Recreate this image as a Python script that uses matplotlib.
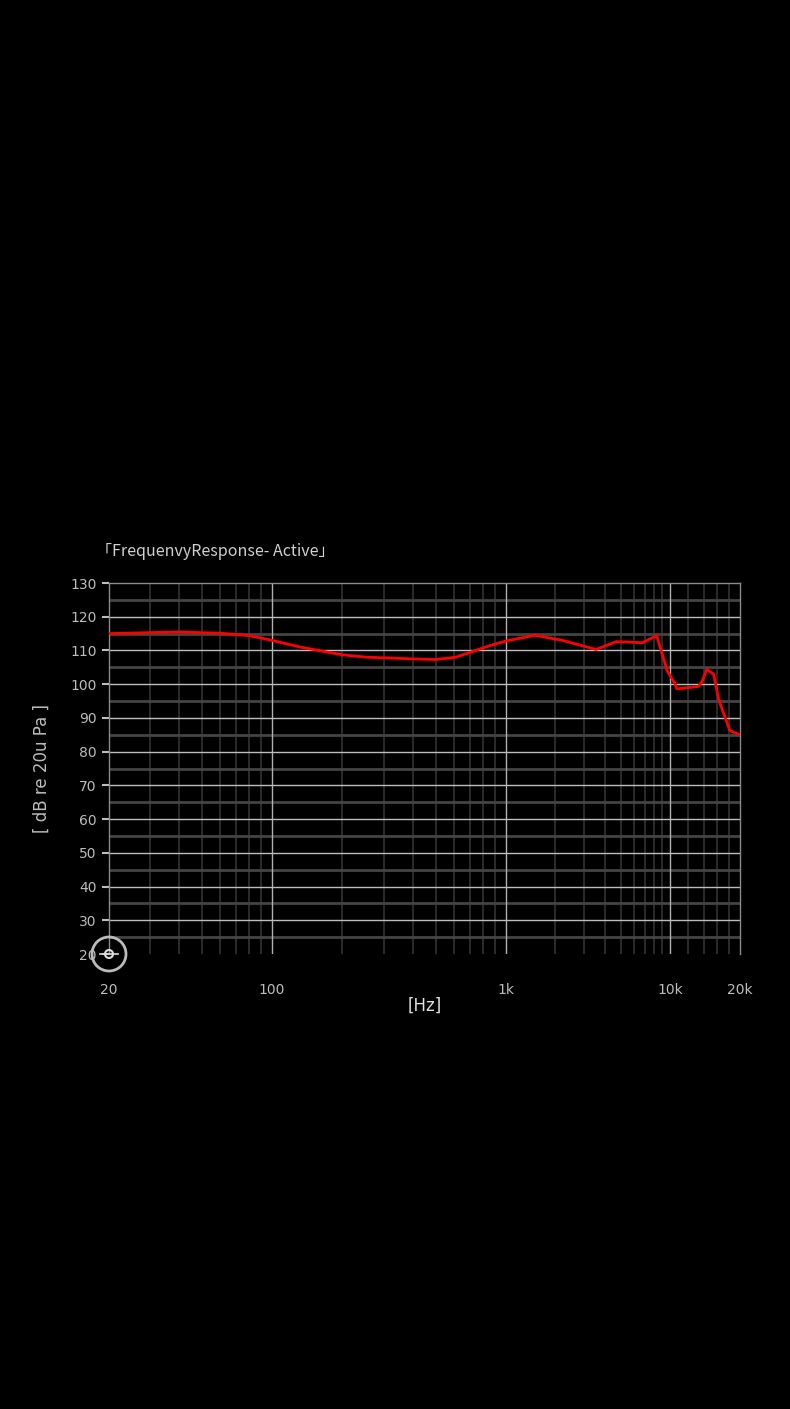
import numpy as np
import matplotlib
matplotlib.use("Agg")
import matplotlib.pyplot as plt
from matplotlib.patches import Ellipse

freq = [20, 40, 60, 80, 100, 132, 200, 255, 400, 500, 610, 850, 1000, 1500, 2200, 3540, 4700,
        6800, 8300, 9600, 10500, 10700, 13200, 13700, 14400, 15400, 16200, 18100, 20000]
spl = [115.0, 115.5, 115.1, 114.4, 113.0, 111.0, 108.7, 108.0, 107.5, 107.3, 108.0, 111.4,
       112.8, 114.5, 113.0, 110.3, 112.6, 112.3, 114.4, 104.0, 100.2, 98.6, 99.3, 100.6, 104.4,
       103.0, 95.4, 86.2, 85.0]
xticks = [20, 100, 1000, 10000, 20000]
xticklabels = ["20", "100", "1k", "10k", "20k"]
yticks = list(range(20, 131, 10))

bp_f = np.log10([20, 100, 1000, 10000, 20000])
bp_p = np.array([109, 272, 506, 670, 740], dtype=float)
def fwd(x):
    return np.interp(np.log10(np.clip(x, 1e-9, None)), bp_f, bp_p)
def inv(p):
    return 10 ** np.interp(p, bp_p, bp_f)

W, H = 790, 1409
fig = plt.figure(figsize=(W/100, H/100), dpi=100, facecolor="black")
ax = fig.add_axes([109/W, 1-954/H, (740-109)/W, (954-583)/H], facecolor="black")
ax.set_xscale("function", functions=(fwd, inv))
ax.set_xlim(20, 20000)
ax.set_ylim(20, 130)

minors = [30, 40, 50, 60, 70, 80, 90, 200, 300, 400, 500, 600, 700, 800, 900,
          2000, 3000, 4000, 5000, 6000, 7000, 8000, 9000, 12000, 14000, 16000, 18000]
for m in minors:
    ax.axvline(m, color="#333333", lw=1.2, zorder=1)
for m in [100, 1000, 10000]:
    ax.axvline(m, color="#b0b0b0", lw=1, zorder=2)
for v in range(25, 130, 10):
    ax.axhline(v, color="#444444", lw=2, zorder=1)
for v in range(30, 130, 10):
    ax.axhline(v, color="#bdbdbd", lw=1, zorder=2)

ax.plot(freq, spl, color="#ff0000", lw=2, zorder=5)

for s in ax.spines.values():
    s.set_color("#8a8a8a"); s.set_linewidth(1)
ax.spines["bottom"].set_visible(False)
ax.set_xticks(xticks)
ax.set_xticklabels(xticklabels)
ax.xaxis.set_minor_locator(matplotlib.ticker.NullLocator())
ax.set_yticks(yticks)
ax.tick_params(axis="x", length=0, colors="#bdbdbd", labelsize=10, pad=21)
ax.tick_params(axis="y", length=5, width=1.5, color="#bdbdbd", labelcolor="#bdbdbd", labelsize=10, pad=4)
ax.set_xlabel("[Hz]", color="#e0e0e0", fontsize=12, labelpad=0)
ax.set_ylabel("[ dB re 20u Pa ]", color="#bdbdbd", fontsize=12, labelpad=14)

cx, cy = 109/W, 1-954/H
fig.add_artist(Ellipse((cx, cy), 34/W, 34/H, transform=fig.transFigure, fill=False,
                       ec="#bbbbbb", lw=2, zorder=10))
fig.add_artist(Ellipse((cx, cy), 8/W, 8/H, transform=fig.transFigure, fill=False,
                       ec="#dddddd", lw=1.5, zorder=10))
fig.add_artist(plt.Line2D([(109-9)/W, (109+9)/W], [cy]*2, color="#dddddd", lw=1.2))

fig.text(96/W, 1-551/H, "「FrequenvyResponse- Active」", color="#d0d0d0", fontsize=11.5,
         va="center", ha="left", family=["Noto Sans CJK SC", "DejaVu Sans"])

fig.savefig("out.png", dpi=100, facecolor="black")
